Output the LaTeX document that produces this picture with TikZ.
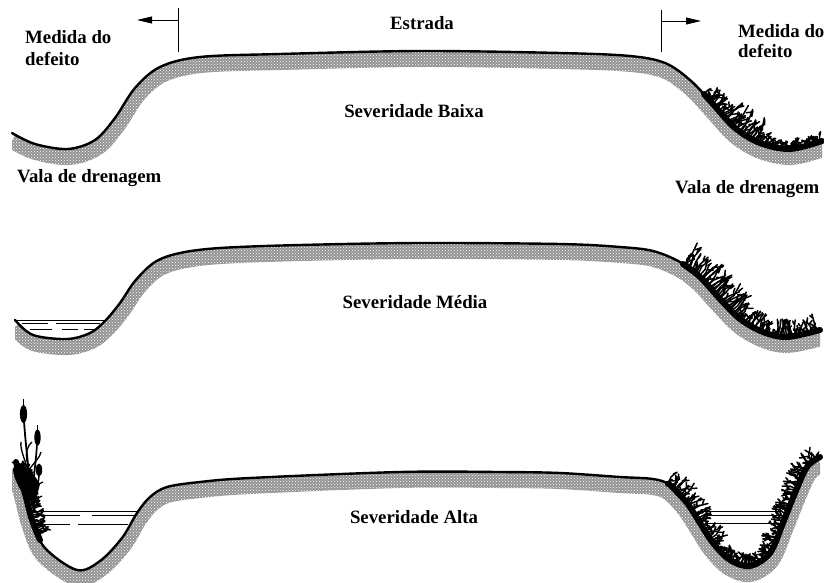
\documentclass[tikz,border=0pt]{standalone}
\usepackage{fontspec}
\setmainfont{Liberation Serif}
\usetikzlibrary{decorations.markings,arrows.meta,patterns}
\begin{document}
\begin{tikzpicture}[x=1pt,y=-1pt,
  lab/.style={font=\bfseries\fontsize{18.8}{21}\selectfont, inner sep=0pt},
  ground/.style={line width=20pt, black!42},
  stipple/.style={pattern=crosshatch dots, pattern color=white},
  surf/.style={line width=2.4pt, black, line join=round, line cap=round},
  vegbase/.style={line width=6pt, black, line cap=round, line join=round},
  water/.style={line width=0.9pt, black},
  blades/.style n args={3}{decoration={markings,
     mark=between positions #1 and #2 step 1.7pt with {
       \pgfmathsetmacro\hh{(0.3+0.7*rnd)*#3/2}
       \pgfmathsetmacro\aa{(rnd-0.5)*6}
       \pgfmathsetmacro\bb{(rnd-0.5)*9}
       \pgfmathsetmacro\cc{(rnd-0.5)*8}
       \draw[line width=1.5pt, line cap=round, line join=round] (0pt,0pt) -- ++(\aa pt,\hh pt) -- ++(\bb pt,\hh pt) ++(-\bb pt,-0.5*\hh pt) -- ++(\cc pt,0.4*\hh pt);
     }}, postaction=decorate}]
\pgfmathsetseed{12}
\useasboundingbox (0,0) rectangle (824,582);
\fill[white] (0,0) rectangle (824,582);

% ---------- Row 1 : Severidade Baixa ----------
\def\rowA{plot[smooth,tension=0.55] coordinates{(12,133) (35,144) (68,149) (95,140) (115,118) (135,88) (160,67) (200,57) (280,54) (420,51) (560,53) (630,56) (665,63) (690,80) (712,103) (735,128) (760,143) (790,149) (822,141)}}
\def\vegA{plot[smooth,tension=0.55] coordinates{(704,94) (712,103) (735,128) (760,143) (790,149) (822,141)}}
\def\vegAl{(704,94) -- (712,103) -- (724,116) -- (735,128) -- (748,137) -- (760,143) -- (775,147) -- (790,149) -- (805,146) -- (820,141)}
\begin{scope}
  \clip \rowA -- (822,230) -- (12,230) -- cycle;
  \draw[ground, shift={(1,6)}] \rowA;
  \fill[stipple] (0,40) rectangle (824,200);
\end{scope}
\draw[surf] \rowA;
\draw[vegbase] \vegA;
\path[blades={0}{0.2}{16}] \vegAl;
\path[blades={0.2}{0.55}{26}] \vegAl;
\path[blades={0.55}{1}{10}] \vegAl;

% ---------- Row 2 : Severidade Media ----------
\def\rowB{plot[smooth,tension=0.55] coordinates{(15,320) (33,335) (67,339) (90,333) (105,321) (120,303) (135,281) (155,262) (180,253) (220,248) (300,245) (420,243) (560,244) (620,247) (653,251) (680,262) (700,277) (720,299) (740,319) (763,332) (787,337) (820,330)}}
\def\vegB{plot[smooth,tension=0.55] coordinates{(683,264) (700,277) (720,299) (740,319) (763,332) (787,337) (820,330)}}
\def\vegBl{(684,265) -- (700,277) -- (710,287) -- (720,299) -- (730,310) -- (740,319) -- (752,327) -- (763,332) -- (775,336) -- (787,337) -- (803,335) -- (818,331)}
\begin{scope}
  \clip \rowB -- (820,420) -- (15,420) -- cycle;
  \draw[ground, shift={(1,6)}] \rowB;
  \fill[stipple] (0,230) rectangle (824,400);
\end{scope}
\draw[surf] \rowB;
\draw[water] (16,320) -- (104,320);
\draw[line width=0.5pt] (22,323) -- (48,323) (56,323) -- (100,323);
\draw[line width=0.8pt] (30,329) -- (52,329) (62,329) -- (78,329) (84,329) -- (96,329);
\draw[vegbase] \vegB;
\path[blades={0}{0.45}{26}] \vegBl;
\path[blades={0.45}{1}{18}] \vegBl;

% ---------- Row 3 : Severidade Alta ----------
\def\rowC{plot[smooth,tension=0.55] coordinates{(16,462) (24,490) (32,520) (45,548) (77,570) (100,561) (122,538) (137,513) (150,497) (167,487) (200,482) (250,478) (400,472) (500,472) (560,473) (620,477) (653,479) (670,485) (687,503) (700,523) (713,543) (730,560) (750,566) (770,553) (783,523) (795,493) (807,467) (820,457)}}
\def\vegCL{plot[smooth,tension=0.55] coordinates{(16,462) (24,490) (32,520) (40,540)}}
\def\vegCLl{(17,464) -- (24,490) -- (32,520) -- (38,536)}
\def\vegCR{plot[smooth,tension=0.55] coordinates{(668,484) (670,485) (687,503) (700,523) (713,543) (730,560) (750,566) (770,553) (783,523) (795,493) (807,467) (820,457)}}
\def\vegCRl{(668,484) -- (678,492) -- (687,503) -- (700,523) -- (713,543) -- (730,560) -- (750,566) -- (770,553) -- (777,540) -- (783,523) -- (795,493) -- (807,467) -- (819,458)}
\begin{scope}
  \clip \rowC -- (820,600) -- (12,600) -- (12,462) -- cycle;
  \draw[ground, shift={(0,6)}] \rowC;
  \fill[stipple] (0,440) rectangle (824,582);
\end{scope}
\draw[surf] \rowC;
% water left
\draw[water] (34,511) -- (138,511);
\draw[line width=0.5pt] (36,515) -- (80,515) (92,515) -- (134,515);
\draw[line width=0.8pt] (38,524) -- (70,524) (78,524) -- (128,524);
% water right
\draw[water] (700,511) -- (782,511);
\draw[line width=0.5pt] (702,515) -- (780,515);
\draw[line width=0.8pt] (705,523) -- (778,523);
% vegetation right
\draw[vegbase] \vegCR;
\path[blades={0}{0.3}{18}] \vegCRl;
\path[blades={0.3}{0.6}{11}] \vegCRl;
\path[blades={0.6}{1}{16}] \vegCRl;
% vegetation left with cattails
\fill (13,470) .. controls (14,462) and (20,462) .. (24,466)
  .. controls (30,468) and (36,478) .. (40,484)
  .. controls (38,492) and (36,500) .. (34,506)
  .. controls (30,500) and (26,496) .. (22,492)
  .. controls (18,486) and (14,478) .. (13,470) -- cycle;
\draw[vegbase] \vegCL;
\path[blades={0}{1}{14}] \vegCLl;
\draw[line width=1.8pt] (32,505) .. controls (30,480) and (26,450) .. (24,421);
\draw[line width=1.7pt] (32,500) .. controls (33,480) and (36,462) .. (37,444);
\draw[line width=1.5pt] (33,495) .. controls (36,488) and (39,482) .. (39,476);
\fill (23.5,414) ellipse (3.6 and 9);
\fill (37.5,437.5) ellipse (3.2 and 8);
\fill (39,470) ellipse (3.2 and 6.5);
\draw[line width=1pt] (23.5,405) -- (23.5,399);
\draw[line width=1pt] (37.5,430) -- (37.5,425);
\draw[line width=1.3pt] (28,470) .. controls (24,458) and (20,448) .. (21,442);
\draw[line width=1.3pt] (27,462) .. controls (25,452) and (28,445) .. (32,442);
\draw[line width=1.3pt] (30,478) .. controls (22,470) and (16,464) .. (12,462);
\draw[line width=1.3pt] (29,470) .. controls (34,462) and (40,458) .. (41,452);
\draw[line width=1.2pt] (34,500) -- (42,496) (34,508) -- (41,506) (35,486) -- (43,482);

% ---------- arrows ----------
\coordinate (la) at (178,8);
\coordinate (lb) at (178,52);
\coordinate (lc) at (178,20);
\coordinate (ld) at (137,20);
\draw[line width=0.8pt] (la) -- (lb);
\draw[line width=0.8pt, -{Triangle[length=15pt,width=7pt]}] (lc) -- (ld);
\coordinate (ra) at (661,10);
\coordinate (rb) at (661,52);
\coordinate (rc) at (661,21);
\coordinate (rd) at (701,21);
\draw[line width=0.8pt] (ra) -- (rb);
\draw[line width=0.8pt, -{Triangle[length=15pt,width=7pt]}] (rc) -- (rd);

% ---------- labels ----------
\node[lab, anchor=base west] (m1) at (25,43) {Medida do};
\node[lab, anchor=base west] (d1) at (25,65) {defeito};
\node[lab, anchor=base west] (m2) at (738,37) {Medida do};
\node[lab, anchor=base west] (d2) at (738,57) {defeito};
\node[lab, anchor=base] (est) at (422,29) {Estrada};
\node[lab, anchor=base west] (v1) at (17,182) {Vala de drenagem};
\node[lab, anchor=base west] (v2) at (675,193) {Vala de drenagem};
\node[lab, anchor=base] (s1) at (414,117) {Severidade Baixa};
\node[lab, anchor=base] (s2) at (415,308) {Severidade Média};
\node[lab, anchor=base] (s3) at (414,523) {Severidade Alta};
\end{tikzpicture}
\end{document}
